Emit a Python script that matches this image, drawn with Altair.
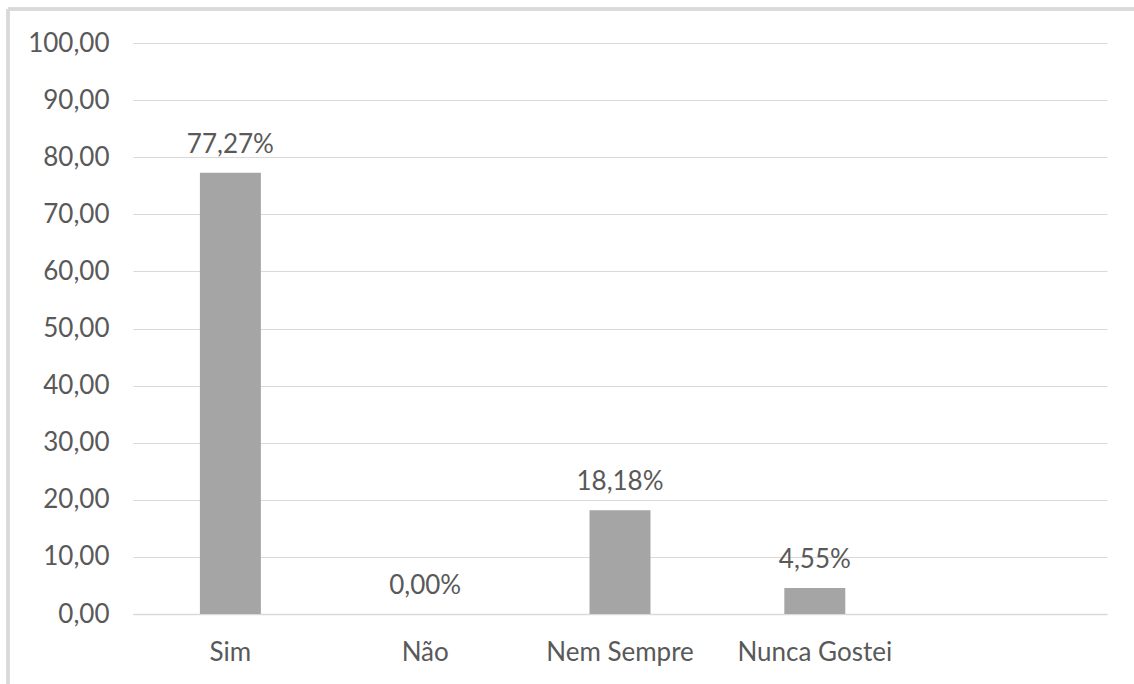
import altair as alt
import pandas as pd

# Survey answers and their share of responses (%)
categories = ["Sim", "Não", "Nem Sempre", "Nunca Gostei"]
values = [77.27, 0.00, 18.18, 4.55]
# an empty fifth slot on the category axis
axis_domain = categories + [" "]
y_ticks = [0, 10, 20, 30, 40, 50, 60, 70, 80, 90, 100]

df = pd.DataFrame({"categoria": categories, "valor": values})

FONT = "Lato"
FONT_SIZE = 26
TEXT = "#595959"
GRID = "#d9d9d9"

x = alt.X(
    "categoria:N",
    sort=axis_domain,
    scale=alt.Scale(domain=axis_domain, paddingInner=0.687, paddingOuter=0.3435),
    axis=alt.Axis(
        title=None, labelAngle=0, ticks=False, domainColor=GRID, domainWidth=1.5,
        labelFont=FONT, labelFontSize=FONT_SIZE, labelColor=TEXT, labelPadding=25,
    ),
)
y = alt.Y(
    "valor:Q",
    scale=alt.Scale(domain=[0, 100], nice=False),
    axis=alt.Axis(
        title=None, values=y_ticks, domain=False, ticks=False,
        gridColor=GRID, gridWidth=1.2,
        labelFont=FONT, labelFontSize=FONT_SIZE, labelColor=TEXT, labelPadding=24,
        labelExpr="replace(format(datum.value, '.2f'), '.', ',')",
    ),
)

bars = alt.Chart(df).mark_bar(color="#a5a5a5").encode(x=x, y=y)

labels = (
    alt.Chart(df)
    .transform_calculate(rotulo="replace(format(datum.valor, '.2f'), '.', ',') + '%'")
    .mark_text(font=FONT, fontSize=FONT_SIZE, color=TEXT, baseline="alphabetic", dy=-20)
    .encode(x=x, y=y, text="rotulo:N")
)

# outer chart frame (left and top edges)
frame_top = alt.Chart(df).mark_rule(color="#d9d9d9", strokeWidth=3, clip=False).encode(
    x=alt.value(-125), x2=alt.value(1010), y=alt.value(-34)
)
frame_left = alt.Chart(df).mark_rule(color="#d9d9d9", strokeWidth=3, clip=False).encode(
    x=alt.value(-125), y=alt.value(-34), y2=alt.value(660)
)

chart = (
    alt.layer(frame_top, frame_left, bars, labels)
    .properties(
        width=974,
        height=571,
        padding={"left": 133, "top": 43, "right": 27, "bottom": 70},
        autosize=alt.AutoSizeParams(type="none"),
        background="white",
    )
    .configure_view(stroke=None)
)

chart.save("out.html", embed_options={"renderer": "svg", "actions": False})
